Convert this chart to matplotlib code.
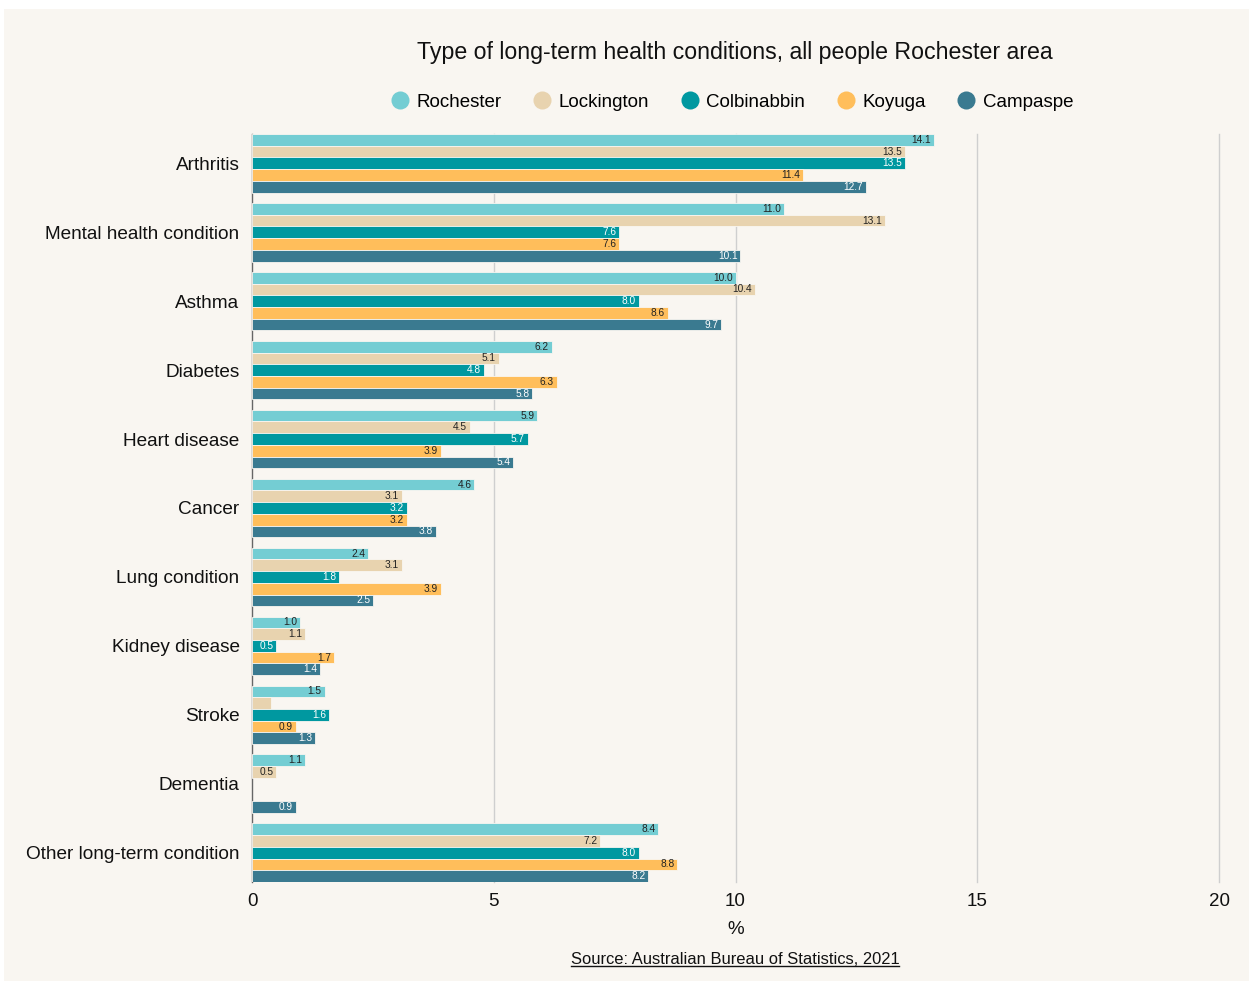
import numpy as np
import matplotlib.pyplot as plt
from matplotlib.lines import Line2D

plt.rcParams['font.family'] = ['Liberation Sans', 'DejaVu Sans']

categories = ['Arthritis', 'Mental health condition', 'Asthma', 'Diabetes',
              'Heart disease', 'Cancer', 'Lung condition', 'Kidney disease',
              'Stroke', 'Dementia', 'Other long-term condition']
series_names = ['Rochester', 'Lockington', 'Colbinabbin', 'Koyuga', 'Campaspe']
rochester = [14.1, 11.0, 10.0, 6.2, 5.9, 4.6, 2.4, 1.0, 1.5, 1.1, 8.4]
lockington = [13.5, 13.1, 10.4, 5.1, 4.5, 3.1, 3.1, 1.1, 0.4, 0.5, 7.2]
colbinabbin = [13.5, 7.6, 8.0, 4.8, 5.7, 3.2, 1.8, 0.5, 1.6, np.nan, 8.0]
koyuga = [11.4, 7.6, 8.6, 6.3, 3.9, 3.2, 3.9, 1.7, 0.9, np.nan, 8.8]
campaspe = [12.7, 10.1, 9.7, 5.8, 5.4, 3.8, 2.5, 1.4, 1.3, 0.9, 8.2]
all_series = [rochester, lockington, colbinabbin, koyuga, campaspe]

colors = ['#74CDD3', '#E8D3AF', '#0098A0', '#FFBE5B', '#3A7A90']
label_colors = ['#222222', '#222222', '#FFFFFF', '#222222', '#FFFFFF']
bg = '#F9F6F1'
txt = '#111111'

fig = plt.figure(figsize=(12.53, 9.83), dpi=100)
fig.patch.set_facecolor('white')
fig.patches.append(plt.Rectangle((4 / 1253, 1 - 981 / 983), 1245 / 1253, 972 / 983,
                                 transform=fig.transFigure, facecolor=bg,
                                 edgecolor='none', zorder=-10))

ax = fig.add_axes([252 / 1253, 1 - 882 / 983, 967 / 1253, 748 / 983])
ax.set_facecolor(bg)

h = 0.17
y = np.arange(len(categories))
for k, (vals, c, lc) in enumerate(zip(all_series, colors, label_colors)):
    pos = y + (k - 2) * h
    vals = np.array(vals, dtype=float)
    ax.barh(pos, vals, height=h, color=c, edgecolor=bg, linewidth=0.6, zorder=3)
    for p, v in zip(pos, vals):
        if np.isnan(v) or v < 0.45:
            continue
        ax.text(v - 0.06, p, f'{v:.1f}', ha='right', va='center',
                fontsize=7.3, color=lc, zorder=4)

ax.set_xlim(0, 20)
ax.set_ylim(len(categories) - 1 + 2.5 * h, -2.5 * h)
ax.set_xticks([0, 5, 10, 15, 20])
ax.set_yticks(y)
ax.set_yticklabels(categories, fontsize=13.7, color=txt)
ax.tick_params(axis='y', length=0, pad=9)
ax.tick_params(axis='x', length=0, labelsize=13.5, pad=8, colors=txt)
for gx in [5, 10, 15, 20]:
    ax.axvline(gx, color='#CFCFCF', linewidth=1, zorder=0, clip_on=False)
for s in ['top', 'right', 'bottom']:
    ax.spines[s].set_visible(False)
ax.spines['left'].set_color('#666666')
ax.spines['left'].set_linewidth(1.0)
ax.set_xlabel('%', fontsize=13.5, color=txt, labelpad=8)

fig.text(735 / 1253, 1 - 53 / 983, 'Type of long-term health conditions, all people Rochester area',
         ha='center', va='center', fontsize=16.7, color=txt)

handles = [Line2D([0], [0], marker='o', linestyle='none', markersize=13,
                  markerfacecolor=c, markeredgecolor='none') for c in colors]
fig.legend(handles, series_names, loc='center', ncol=5, frameon=False,
           bbox_to_anchor=(731 / 1253, 1 - 102 / 983), fontsize=13.5,
           handletextpad=0.3, columnspacing=1.55, handlelength=1.2)

src = fig.text(735 / 1253, 1 - 959 / 983, 'Source: Australian Bureau of Statistics, 2021',
               ha='center', va='center', fontsize=11.9, color=txt)
fig.canvas.draw()
bb = src.get_window_extent().transformed(fig.transFigure.inverted())
fig.add_artist(Line2D([bb.x0, bb.x1], [bb.y0 + 0.001, bb.y0 + 0.001],
                      transform=fig.transFigure, color=txt, linewidth=1))

fig.savefig('out.png', dpi=100, facecolor=fig.get_facecolor())
